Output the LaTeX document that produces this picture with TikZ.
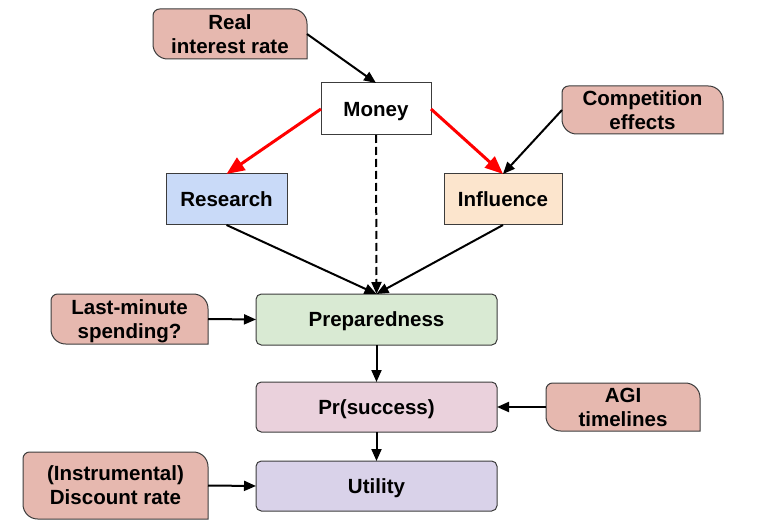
\documentclass[tikz,border=0pt]{standalone}
\usepackage{fontspec}
\setmainfont{Liberation Sans}
\usetikzlibrary{arrows.meta}
\usetikzlibrary{backgrounds}

%pink note shape: round corners except bottom right
\newcommand\noteshape[1]{%
\draw [notefill] (#1.south east) -- ([yshift=-11pt]#1.north east) arc[start angle=0,end angle=90,radius=11pt] -- ([xshift=5pt]#1.north west) arc[start angle=90,end angle=180,radius=5pt] -- ([yshift=11pt]#1.south west) arc[start angle=180,end angle=270,radius=11pt] -- cycle ;}

\begin{document}
\begin{tikzpicture}[x=0.75pt,y=0.75pt,
  every node/.style={font=\fontsize{15.4}{18}\selectfont\bfseries, align=center, inner sep=0pt, outer sep=0pt, text depth=0pt},
  note/.style={minimum width=115.5pt, minimum height=37.5pt},
  notefill/.style={draw={rgb, 255:red, 60; green, 60; blue, 60 }, line width=0.75pt, fill={rgb, 255:red, 230; green, 184; blue, 175 }},
  box/.style={draw={rgb, 255:red, 60; green, 60; blue, 60 }, line width=0.75pt, minimum height=38.25pt},
  wide/.style={box, rounded corners=4pt, minimum width=180.75pt},
  arr/.style={line width=1.5pt, -{Triangle[length=9pt,width=7.5pt]}},
  redarr/.style={line width=2.25pt, draw={rgb, 255:red, 255; green, 0; blue, 0 }, -{Triangle[length=13.5pt,width=11pt]}}
]
\useasboundingbox (0,0) rectangle (760,529);

% Text Node
\node [note] (rate) at (230,495) {Real\\interest rate};
% Text Node
\node [note, minimum width=120.75pt, minimum height=36pt] (comp) at (642.5,419) {Competition\\effects};
% Text Node
\node [note, minimum width=117.75pt] (lastmin) at (129.5,210) {Last-minute\\spending?};
% Text Node
\node [note, minimum height=36pt] (agi) at (623,122) {AGI\\timelines};
% Text Node
\node [note, minimum width=138.75pt, minimum height=50.25pt] (disc) at (115.5,43.5) {(Instrumental)\\Discount rate};

%Shape: Rectangle
\node [box, fill=white, minimum width=82.5pt, minimum height=39pt] (money) at (376,420) {Money};
%Shape: Rectangle
\node [box, fill={rgb, 255:red, 201; green, 218; blue, 248 }, minimum width=90.75pt] (research) at (226.5,329.5) {Research};
%Shape: Rectangle
\node [box, fill={rgb, 255:red, 252; green, 229; blue, 205 }, minimum width=88.5pt] (influence) at (503,329.5) {Influence};

%Shape: Rounded Rectangle
\node [wide, fill={rgb, 255:red, 217; green, 234; blue, 211 }] (prep) at (376.5,209.5) {Preparedness};
%Shape: Rounded Rectangle
\node [wide, fill={rgb, 255:red, 234; green, 209; blue, 220 }, minimum height=37.5pt] (prsucc) at (376.5,122) {Pr(success)};
%Shape: Rounded Rectangle
\node [wide, fill={rgb, 255:red, 217; green, 210; blue, 233 }, minimum height=37.5pt] (utility) at (376.5,43) {Utility};

\begin{scope}[on background layer]
\noteshape{rate}
\noteshape{comp}
\noteshape{lastmin}
\noteshape{agi}
\noteshape{disc}
\end{scope}

%Straight Lines
\draw [arr] (rate.east) -- (money.north) ;
\draw [redarr] (money.west) -- (research.north) ;
\draw [redarr] (money.east) -- (influence.north) ;
\draw [arr] (comp.west) -- (influence.north) ;
\draw [arr, dash pattern={on 6pt off 3pt}] (money.south) -- (prep.north) ;
\draw [arr] (research.south) -- (prep.north) ;
\draw [arr] (influence.south) -- (prep.north) ;
\draw [arr] (lastmin.east) -- (prep.west) ;
\draw [arr] (prep.south) -- (prsucc.north) ;
\draw [arr] (agi.west) -- (prsucc.east) ;
\draw [arr] (prsucc.south) -- (utility.north) ;
\draw [arr] (disc.east) -- (utility.west) ;

\end{tikzpicture}
\end{document}
